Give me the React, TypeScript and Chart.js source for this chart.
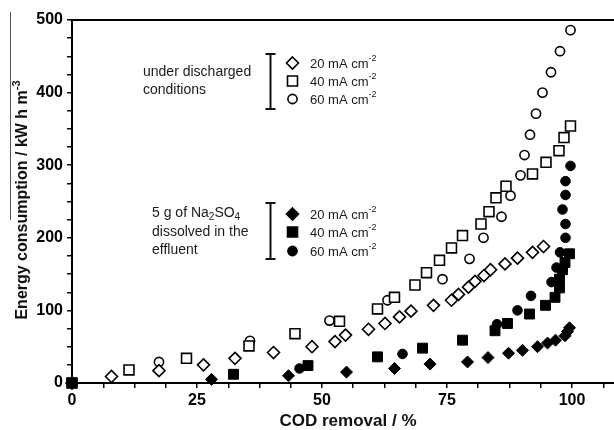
import React, { useEffect, useRef } from 'react';
import { Chart, registerables } from 'chart.js';

Chart.register(...registerables);

const FONT = '"Liberation Sans", Arial, Helvetica, sans-serif';

// Under discharged conditions (open symbols)
const dis20X = [0, 7.9, 17.4, 26.3, 32.6, 40.3, 48, 52.6, 54.7, 59.3, 62.6, 65.5, 67.8, 72.3, 75.9, 77.3, 79.3, 80.6, 82.4, 83.7, 86.6, 89.1, 92.1, 94.3];
const dis20Y = [0, 9, 17, 25, 34, 42, 50, 57, 66, 74, 82, 91, 99, 107, 114, 122, 132, 140, 148, 156, 164, 172, 180, 188];

const dis40X = [0, 11.4, 22.9, 35.4, 44.6, 53.5, 61.1, 64.5, 68.6, 70.9, 73.5, 75.9, 78.1, 81.8, 83.4, 84.8, 86.8, 92.1, 94.8, 97.4, 98.4, 99.7];
const dis40Y = [0, 18, 34, 51, 68, 85, 102, 118, 135, 152, 169, 186, 203, 219, 236, 255, 271, 288, 304, 320, 338, 354];

const dis60X = [0, 17.4, 35.6, 51.5, 63.1, 74.1, 79.5, 82.3, 85.9, 87.7, 89.7, 90.5, 91.6, 92.8, 94.1, 95.8, 97.6, 99.7];
const dis60Y = [0, 29, 58, 86, 114, 143, 171, 200, 229, 258, 286, 314, 342, 371, 400, 428, 457, 486];

// 5 g of Na2SO4 dissolved in the effluent (filled symbols)
const na20X = [0, 27.9, 43.3, 54.9, 64.5, 71.6, 79.1, 83.2, 87.3, 90.1, 93.1, 95.1, 96.7, 98.6, 99.1, 99.5];
const na20Y = [0, 5, 10, 15, 20, 26, 29, 35, 41, 45, 50, 55, 59, 65, 71, 76];

const na40X = [0, 32.3, 47.2, 61.1, 70.1, 78.1, 84.6, 87.1, 91.5, 94.7, 96.6, 97.5, 97.5, 98.1, 98.6, 99.5];
const na40Y = [0, 12, 24, 36, 48, 59, 72, 82, 95, 107, 118, 131, 143, 156, 166, 178];

const na60X = [0, 45.5, 66.1, 85, 89.1, 91.8, 95.9, 96.9, 97.6, 98.7, 98.7, 98.1, 98.7, 98.7, 99.7];
const na60Y = [0, 20, 40, 81, 100, 120, 139, 159, 180, 200, 219, 239, 259, 278, 299];

const xLabelTicks = [0, 25, 50, 75, 100];
const yLabelTicks = [0, 100, 200, 300, 400, 500];
const currentLabels = ['20 mA cm', '40 mA cm', '60 mA cm'];

const pts = (xs: number[], ys: number[]) => xs.map((x, i) => ({ x, y: ys[i] }));

type Part = { t: string; size: number; bold?: boolean; dy?: number };

function drawRich(ctx: CanvasRenderingContext2D, parts: Part[], x: number, y: number, align: 'left' | 'center' = 'left') {
  const widths = parts.map((p) => {
    ctx.font = `${p.bold ? 'bold ' : ''}${p.size}px ${FONT}`;
    return ctx.measureText(p.t).width;
  });
  const total = widths.reduce((a, b) => a + b, 0);
  let cx = align === 'center' ? x - total / 2 : x;
  ctx.textAlign = 'left';
  ctx.textBaseline = 'middle';
  parts.forEach((p, i) => {
    ctx.font = `${p.bold ? 'bold ' : ''}${p.size}px ${FONT}`;
    ctx.fillText(p.t, cx, y + (p.dy || 0));
    cx += widths[i];
  });
}

function marker(ctx: CanvasRenderingContext2D, kind: string, x: number, y: number, filled: boolean) {
  ctx.save();
  ctx.beginPath();
  if (kind === 'diamond') {
    ctx.moveTo(x, y - 6); ctx.lineTo(x + 6, y); ctx.lineTo(x, y + 6); ctx.lineTo(x - 6, y); ctx.closePath();
  } else if (kind === 'square') {
    ctx.rect(x - 5, y - 5, 10, 10);
  } else {
    ctx.arc(x, y, 4.6, 0, Math.PI * 2);
  }
  ctx.fillStyle = filled ? '#000' : '#fff';
  ctx.fill();
  ctx.lineWidth = 1.6;
  ctx.strokeStyle = '#000';
  ctx.stroke();
  ctx.restore();
}

function bracket(ctx: CanvasRenderingContext2D, x: number, y0: number, y1: number) {
  ctx.save();
  ctx.strokeStyle = '#111';
  ctx.lineWidth = 2;
  ctx.beginPath();
  ctx.moveTo(x, y0); ctx.lineTo(x, y1);
  ctx.moveTo(x - 5, y0); ctx.lineTo(x + 5, y0);
  ctx.moveTo(x - 5, y1); ctx.lineTo(x + 5, y1);
  ctx.stroke();
  ctx.restore();
}

const decorations = {
  id: 'decorations',
  afterDraw(chart: Chart) {
    const ctx = chart.ctx;
    const a = chart.chartArea;
    ctx.save();

    // top frame line
    ctx.strokeStyle = '#000';
    ctx.lineWidth = 2;
    ctx.beginPath();
    ctx.moveTo(a.left - 1, a.top);
    ctx.lineTo(chart.width, a.top);
    ctx.stroke();

    // thin rule at the far left
    ctx.strokeStyle = '#555';
    ctx.lineWidth = 1;
    ctx.beginPath();
    ctx.moveTo(10.5, 12);
    ctx.lineTo(10.5, 220);
    ctx.stroke();

    ctx.fillStyle = '#111';
    // x title
    drawRich(ctx, [{ t: 'COD removal / %', size: 17, bold: true }], 348, 421, 'center');

    // y title (rotated)
    ctx.save();
    ctx.translate(23, 200);
    ctx.rotate(-Math.PI / 2);
    drawRich(ctx, [
      { t: 'Energy consumption / kW h m', size: 16, bold: true },
      { t: '-3', size: 11, bold: true, dy: -6 },
    ], 0, 0, 'center');
    ctx.restore();

    // legend groups
    const groups = [
      { lines: [['under discharged'], ['conditions']], lineY: [72, 90], textX: 143, ys: [63, 81, 99], filled: false, br: [54, 109] },
      { lines: [['5 g of Na', '2', 'SO', '4'], ['dissolved in the'], ['effluent']], lineY: [213, 232, 250], textX: 152, ys: [214, 232, 251], filled: true, br: [203, 259] },
    ];
    const kinds = ['diamond', 'square', 'circle'];
    groups.forEach((g) => {
      ctx.fillStyle = '#1a1a1a';
      g.lines.forEach((l, i) => {
        const parts: Part[] = l.map((t, j) => (j % 2 === 1 ? { t, size: 10, dy: 4 } : { t, size: 14 }));
        drawRich(ctx, parts, g.textX, g.lineY[i]);
      });
      bracket(ctx, 270.5, g.br[0], g.br[1]);
      g.ys.forEach((y, i) => {
        marker(ctx, kinds[i], 292.5, y, g.filled);
        ctx.fillStyle = '#1a1a1a';
        drawRich(ctx, [{ t: currentLabels[i], size: 13 }, { t: '-2', size: 9, dy: -5 }], 310, y + 1);
      });
    });

    ctx.restore();
  },
};

export default function App() {
  const ref = useRef<HTMLCanvasElement>(null);

  useEffect(() => {
    if (!ref.current) return;
    const open = { backgroundColor: '#fff', borderColor: '#000', borderWidth: 1.6, order: 1 };
    const solid = { backgroundColor: '#000', borderColor: '#000', borderWidth: 1, order: 0 };
    const chart = new Chart(ref.current, {
      type: 'scatter',
      data: {
        datasets: [
          { label: '20 mA cm-2 (Na2SO4)', data: pts(na20X, na20Y), pointStyle: 'rectRot', pointRadius: 6, ...solid, clip: false },
          { label: '40 mA cm-2 (Na2SO4)', data: pts(na40X, na40Y), pointStyle: 'rect', pointRadius: 7, ...solid, clip: false },
          { label: '60 mA cm-2 (Na2SO4)', data: pts(na60X, na60Y), pointStyle: 'circle', pointRadius: 4.8, ...solid, clip: false },
          { label: '20 mA cm-2 (discharged)', data: pts(dis20X, dis20Y), pointStyle: 'rectRot', pointRadius: 6, ...open, clip: false },
          { label: '40 mA cm-2 (discharged)', data: pts(dis40X, dis40Y), pointStyle: 'rect', pointRadius: 7, ...open, clip: false },
          { label: '60 mA cm-2 (discharged)', data: pts(dis60X, dis60Y), pointStyle: 'circle', pointRadius: 4.6, ...open, clip: false },
        ] as any,
      },
      options: {
        animation: false,
        responsive: true,
        maintainAspectRatio: false,
        layout: { autoPadding: false, padding: { top: 20, right: 0, left: 0, bottom: 0 } },
        plugins: { legend: { display: false }, tooltip: { enabled: false } },
        scales: {
          x: {
            type: 'linear',
            min: 0,
            max: 108.4,
            afterFit: (s: any) => { s.height = 47; s.paddingLeft = 0; s.paddingRight = 0; },
            afterBuildTicks: (s: any) => {
              const t = [];
              for (let v = 0; v <= 106.25; v += 6.25) t.push({ value: v });
              s.ticks = t;
            },
            ticks: {
              autoSkip: false,
              maxRotation: 0,
              padding: 3,
              color: '#000',
              font: { family: FONT, size: 16, weight: 'bold' },
              callback: (v: any) => (xLabelTicks.includes(Number(v)) ? String(v) : ''),
            },
            grid: { drawOnChartArea: false, drawTicks: true, tickLength: 5, color: '#000', lineWidth: 1.5 },
            border: { color: '#000', width: 2 },
          },
          y: {
            type: 'linear',
            min: 0,
            max: 500,
            afterFit: (s: any) => { s.width = 72; },
            afterBuildTicks: (s: any) => {
              const t = [];
              for (let v = 0; v <= 500; v += 25) t.push({ value: v });
              s.ticks = t;
            },
            ticks: {
              autoSkip: false,
              padding: 4,
              color: '#000',
              font: { family: FONT, size: 16, weight: 'bold' },
              callback: (v: any) => (yLabelTicks.includes(Number(v)) ? String(v) : ''),
            },
            grid: { drawOnChartArea: false, drawTicks: true, tickLength: 5, color: '#000', lineWidth: 1.5 },
            border: { color: '#000', width: 2 },
          },
        },
      } as any,
      plugins: [decorations],
    });
    return () => chart.destroy();
  }, []);

  return (
    <div style={{ position: 'fixed', left: 0, top: 0, width: 614, height: 430, background: '#fff' }}>
      <canvas ref={ref} />
    </div>
  );
}
